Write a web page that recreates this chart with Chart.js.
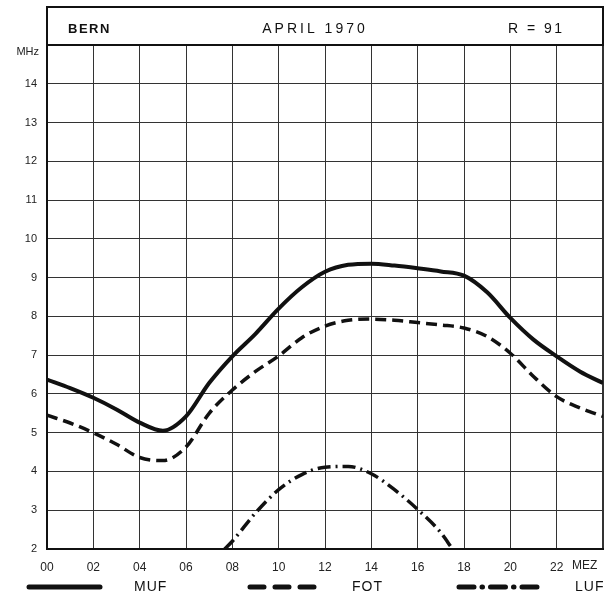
<!DOCTYPE html>
<html><head><meta charset="utf-8">
<script src="https://cdn.jsdelivr.net/npm/chart.js@4/dist/chart.umd.min.js"></script>
<style>html,body{margin:0;padding:0;background:#fff}canvas{display:block}</style>
</head><body>
<canvas id="c" width="605" height="593"></canvas>
<script>
// ---- data ----
const hours = [0,1,2,3,4,5,6,7,8,9,10,11,12,13,14,15,16,17,18,19,20,21,22,23,24];
const mufValues = [6.37,6.15,5.9,5.6,5.26,5.05,5.42,6.28,6.97,7.55,8.2,8.75,9.15,9.33,9.36,9.31,9.24,9.16,9.05,8.62,7.96,7.4,6.97,6.58,6.28];
const fotValues = [5.45,5.25,5.0,4.7,4.36,4.28,4.63,5.5,6.1,6.58,6.98,7.45,7.75,7.9,7.93,7.9,7.84,7.78,7.7,7.48,7.05,6.45,5.93,5.64,5.42];
const lufHours  = [7.67,8,9,10,11,12,13,14,15,16,17,17.5];
const lufValues = [2.0,2.2,2.93,3.53,3.92,4.11,4.13,3.94,3.53,3.02,2.42,2.0];
const xTickLabels = {0:'00',2:'02',4:'04',6:'06',8:'08',10:'10',12:'12',14:'14',16:'16',18:'18',20:'20',22:'22',24:''};
const xUnitLabel = 'MEZ';
const yUnitLabel = 'MHz';
const headerLeft = 'BERN';
const headerCenter = 'APRIL 1970';
const headerRight = 'R = 91';
const seriesNames = ['MUF','FOT','LUF'];

const FONT = '"Liberation Sans", Arial, Helvetica, sans-serif';

const pts = (xs, ys) => xs.map((x, i) => ({x, y: ys[i]}));

const decor = {
  id: 'decor',
  afterDraw(chart) {
    const ctx = chart.ctx, a = chart.chartArea;
    ctx.save();
    // header box
    ctx.strokeStyle = '#111';
    ctx.lineWidth = 2;
    ctx.strokeRect(a.left, 7, a.right - a.left, a.top - 7);
    ctx.fillStyle = '#111';
    ctx.textBaseline = 'middle';
    ctx.font = 'bold 13px ' + FONT;
    ctx.letterSpacing = '1.5px';
    ctx.textAlign = 'left';
    ctx.fillText(headerLeft, 68, 29);
    ctx.font = '14px ' + FONT;
    ctx.letterSpacing = '3px';
    ctx.textAlign = 'center';
    ctx.fillText(headerCenter, 315, 29);
    ctx.letterSpacing = '2.5px';
    ctx.textAlign = 'left';
    ctx.fillText(headerRight, 508, 29);
    ctx.letterSpacing = '0px';
    // unit labels
    ctx.font = '12px ' + FONT;
    ctx.fillStyle = '#222';
    ctx.textAlign = 'left';
    ctx.fillText(xUnitLabel, 572, 566);
    ctx.font = '11px ' + FONT;
    ctx.textAlign = 'right';
    ctx.fillText(yUnitLabel, 39, 52);
    // legend
    const ly = 587;
    ctx.strokeStyle = '#111';
    ctx.lineWidth = 5;
    ctx.lineCap = 'round';
    ctx.beginPath(); ctx.moveTo(29, ly); ctx.lineTo(100, ly); ctx.stroke();
    ctx.setLineDash([14, 11]);
    ctx.beginPath(); ctx.moveTo(250, ly); ctx.lineTo(322, ly); ctx.stroke();
    ctx.setLineDash([15, 8, 0.5, 8]);
    ctx.beginPath(); ctx.moveTo(459, ly); ctx.lineTo(543, ly); ctx.stroke();
    ctx.setLineDash([]);
    ctx.fillStyle = '#111';
    ctx.font = '14px ' + FONT;
    ctx.letterSpacing = '1px';
    ctx.textAlign = 'left';
    ctx.fillText(seriesNames[0], 134, ly);
    ctx.fillText(seriesNames[1], 352, ly);
    ctx.fillText(seriesNames[2], 575, ly);
    ctx.restore();
  }
};

new Chart(document.getElementById('c'), {
  type: 'line',
  data: {
    datasets: [
      { label: seriesNames[0], data: pts(hours, mufValues), borderColor: '#111', borderWidth: 4,
        pointRadius: 0, cubicInterpolationMode: 'monotone', fill: false },
      { label: seriesNames[1], data: pts(hours, fotValues), borderColor: '#111', borderWidth: 3.5,
        borderDash: [11, 6], pointRadius: 0, cubicInterpolationMode: 'monotone', fill: false },
      { label: seriesNames[2], data: pts(lufHours, lufValues), borderColor: '#111', borderWidth: 3.5,
        borderDash: [13, 5, 2, 5], pointRadius: 0, cubicInterpolationMode: 'monotone', fill: false }
    ]
  },
  options: {
    responsive: false,
    animation: false,
    devicePixelRatio: 1,
    layout: { padding: { top: 45, right: 2, left: 0, bottom: 0 } },
    plugins: { legend: { display: false }, tooltip: { enabled: false }, title: { display: false } },
    scales: {
      x: {
        type: 'linear', min: 0, max: 24,
        ticks: { stepSize: 2, autoSkip: false, maxRotation: 0, padding: 11,
                 color: '#222', font: { family: FONT, size: 12 },
                 callback: v => (xTickLabels[v] !== undefined ? xTickLabels[v] : '') },
        grid: { color: '#333', lineWidth: c => (c.tick && c.tick.value === 24 ? 2 : 1), drawTicks: false },
        border: { color: '#111', width: 2 },
        afterFit: s => { s.height = 44; s.paddingRight = 0; s.paddingLeft = 0; }
      },
      y: {
        min: 2, max: 15,
        ticks: { stepSize: 1, padding: 10, color: '#222', font: { family: FONT, size: 11 },
                 callback: v => (v === 15 ? '' : String(v)) },
        grid: { color: '#333', lineWidth: 1, drawTicks: false },
        border: { color: '#111', width: 2 },
        afterFit: s => { s.width = 47; s.paddingTop = 0; s.paddingBottom = 0; }
      }
    }
  },
  plugins: [decor]
});
</script>
</body></html>
